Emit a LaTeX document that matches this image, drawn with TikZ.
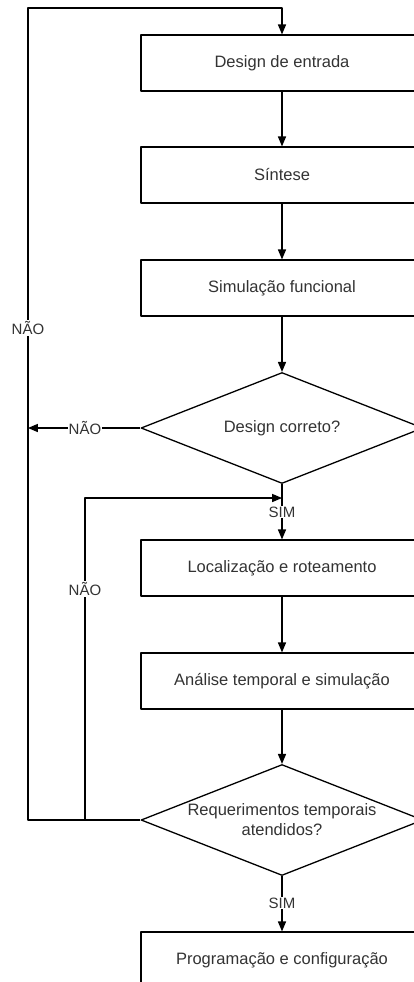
\documentclass[tikz,border=0pt]{standalone}
\usepackage{fontspec}
\setmainfont{Liberation Sans}
\usetikzlibrary{arrows,shapes.geometric}
\definecolor{txtgray}{rgb}{0.2,0.2,0.2}

\tikzset{
  block/.style={draw,rectangle,line width=1.3pt,minimum width=282pt,minimum height=56pt,
    text=txtgray,font=\fontsize{16.5}{20}\selectfont},
  decision/.style={draw,diamond,line width=1.3pt,minimum width=282pt,minimum height=111pt,
    inner sep=0pt,aspect=2.54},
  flow/.style={->,line width=1.3pt},
  answer/.style={fill=white,inner sep=1pt,text=txtgray,font=\fontsize{15}{18}\selectfont}
}

\begin{document}
\begin{tikzpicture}[x=1pt,y=-1pt,>=triangle 45,line join=round]
\useasboundingbox (0,0) rectangle (414,982);
\clip (0,0) rectangle (414,982);
% blocos
\node[block] (entry) at (282,63) {Design de entrada};
\node[block] (synth) at (282,175) {Síntese};
\node[block] (funcsim) at (282,288) {Simulação funcional};
\node[decision,label={[text=txtgray,font=\fontsize{16.5}{20}\selectfont]center:Design correto?}] (dec1) at (282,428) {};
\node[block] (place) at (282,568) {Localização e roteamento};
\node[block] (timing) at (282,681) {Análise temporal e simulação};
\node[decision,label={[align=center,fill=white,inner sep=1pt,text=txtgray,font=\fontsize{16.5}{20}\selectfont]center:Requerimentos temporais\\atendidos?}] (dec2) at (282,820) {};
\node[block] (prog) at (282,960) {Programação e configuração};
\coordinate (topleft) at (28,8);
\coordinate (innerleft) at (85,498);
% fluxo principal
\draw[flow] (entry) -- (synth);
\draw[flow] (synth) -- (funcsim);
\draw[flow] (funcsim) -- (dec1);
\draw[flow] (dec1) -- (place);
\draw[flow] (place) -- (timing);
\draw[flow] (timing) -- (dec2);
\draw[flow] (dec2) -- (prog);
% retornos
\draw[flow] (dec2.west) -| (topleft) -| (entry.north);
\draw[flow] (dec1.west) -- (dec1.west -| topleft);
\draw[flow] (dec2.west) -| (innerleft) -- (innerleft -| dec1.south);
% respostas
\node[answer] (no1) at (28,328) {NÃO};
\node[answer] (no2) at (85,428) {NÃO};
\node[answer] (no3) at (85,589) {NÃO};
\node[answer] (yes1) at (282,512) {SIM};
\node[answer] (yes2) at (282,903) {SIM};
\end{tikzpicture}
\end{document}
